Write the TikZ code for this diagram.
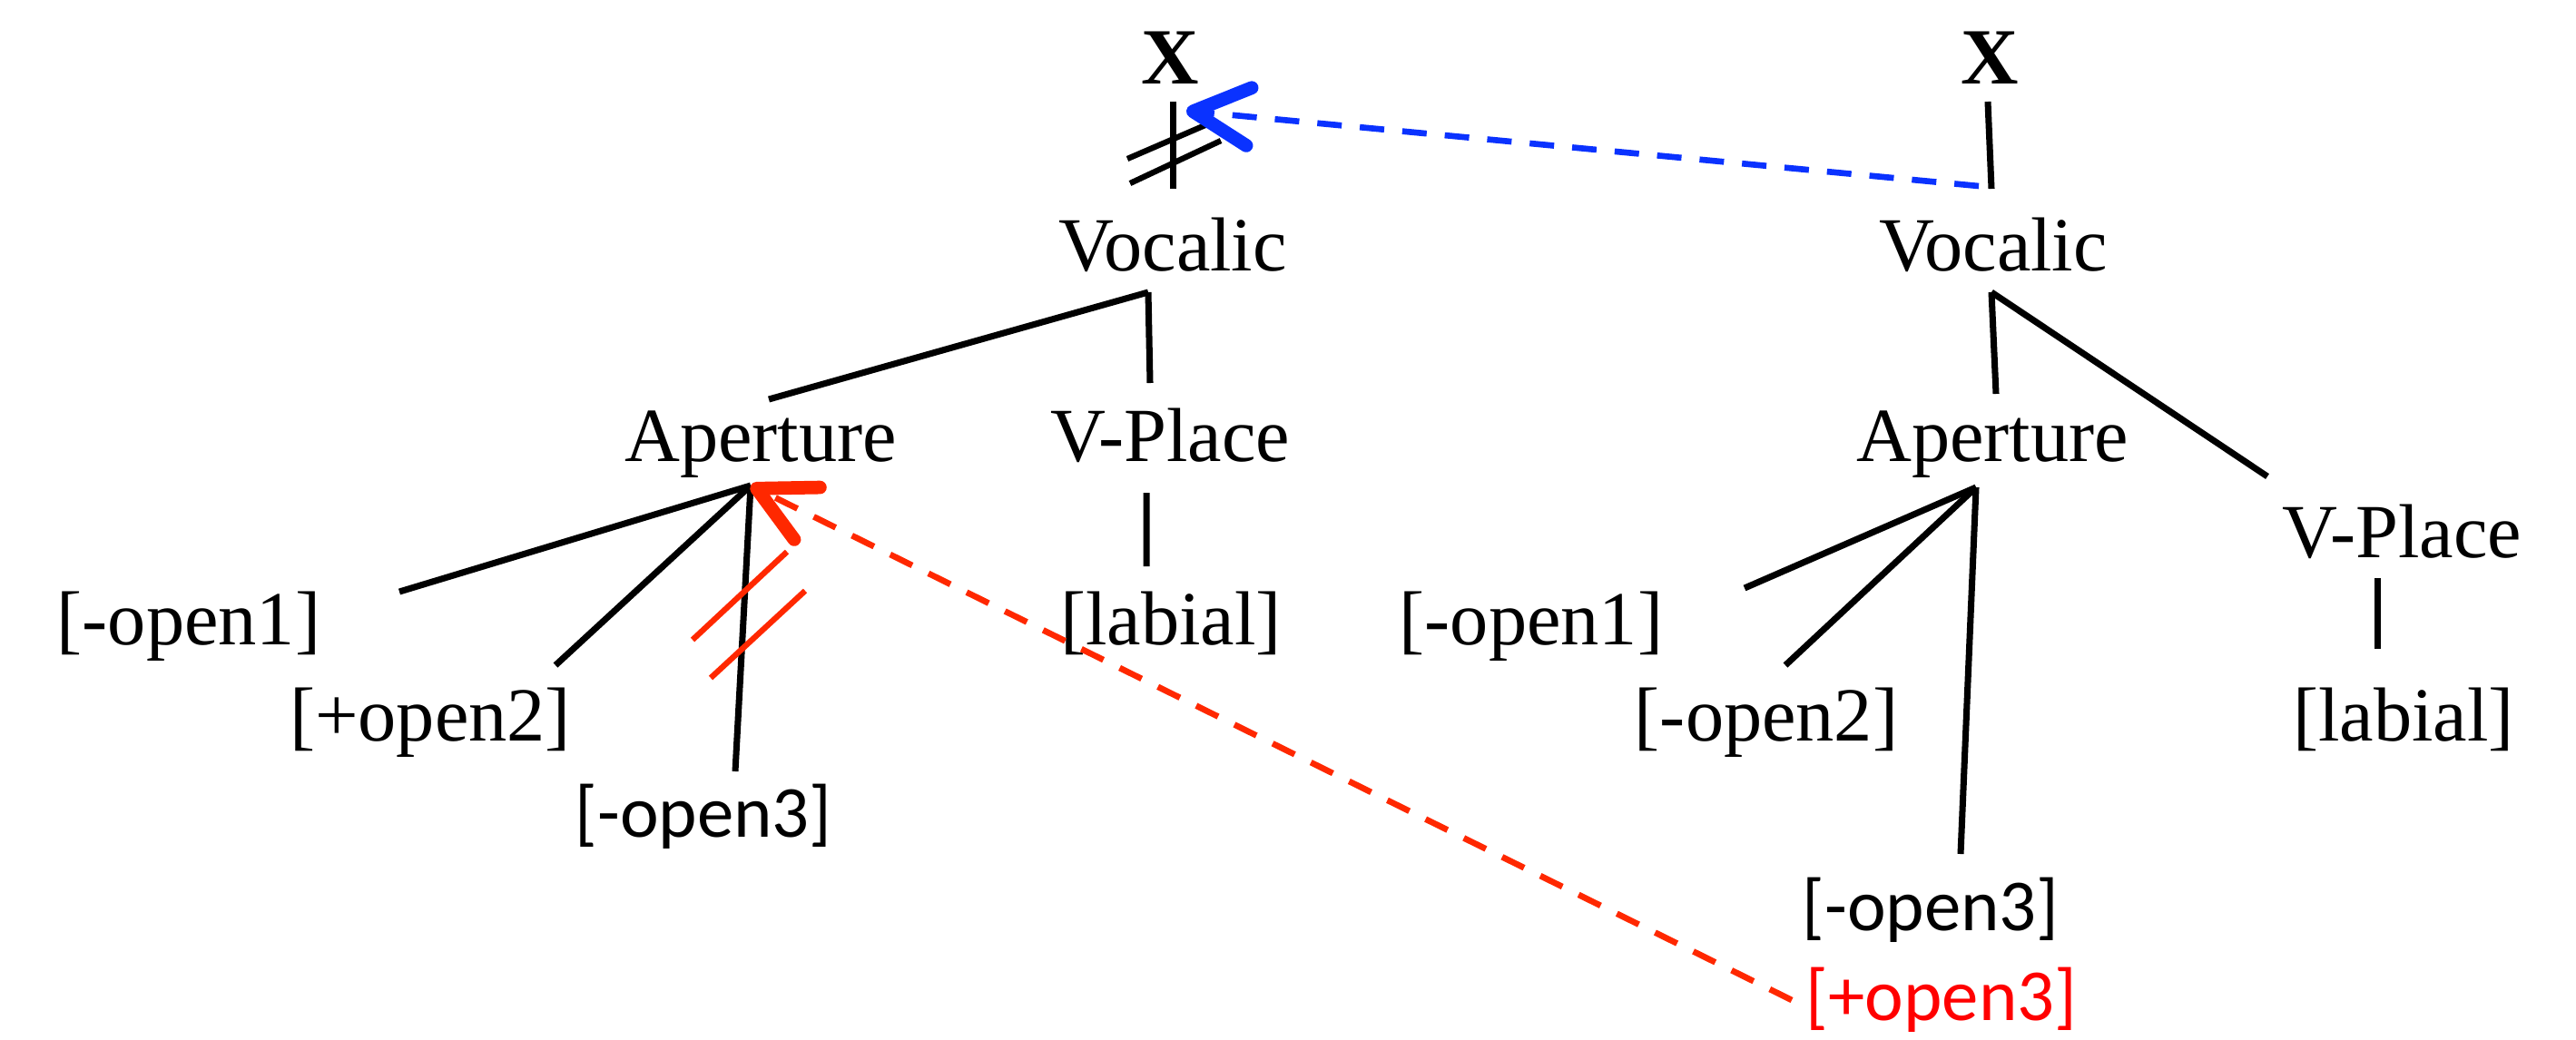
\documentclass[tikz,border=0pt]{standalone}
\usepackage{fontspec}
\setmainfont{Liberation Serif}
\newfontfamily\calibrifont{Carlito}
\usetikzlibrary{arrows.meta, calc}
\definecolor{linkred}{RGB}{255,40,0}
\definecolor{linkblue}{RGB}{10,50,255}
\definecolor{featred}{RGB}{255,0,0}

\begin{document}
\begin{tikzpicture}[>=Stealth,
    feat/.style={anchor=base, inner sep=0pt, font=\fontsize{24}{28}\selectfont},
    featsans/.style={anchor=base, inner sep=0pt, font=\calibrifont\fontsize{23}{27}\selectfont},
    root/.style={anchor=base, inner sep=0pt, font=\bfseries\fontsize{25}{28}\selectfont},
    assoc/.style={line width=2pt},
    cut/.style={line width=1.8pt},
    relink/.style={line width=1.9pt, dash pattern=on 0.27cm off 0.2cm,
      -{Straight Barb[length=6.2mm, width=6.4mm, line width=4.2pt, round]}}]
  \useasboundingbox (0,0) rectangle (28.38,-11.45);
  % --- left tree ---
  \node[root] (xL) at (12.89,-0.92) {X};
  \node[feat] (vocL) at (12.92,-2.98) {Vocalic};
  \node[feat] (aperL) at (8.38,-5.08) {Aperture};
  \node[feat] (vplL) at (12.89,-5.08) {V-Place};
  \node[feat] (op1L) at (2.08,-7.10) {[-open1]};
  \node[feat] (op2L) at (4.74,-8.16) {[+open2]};
  \node[featsans] (op3L) at (7.75,-9.22) {[-open3]};
  \node[feat] (labL) at (12.90,-7.10) {[labial]};
  % --- right tree ---
  \node[root] (xR) at (21.92,-0.92) {X};
  \node[feat] (vocR) at (21.96,-2.98) {Vocalic};
  \node[feat] (aperR) at (21.95,-5.08) {Aperture};
  \node[feat] (vplR) at (26.46,-6.14) {V-Place};
  \node[feat] (op1R) at (16.87,-7.10) {[-open1]};
  \node[feat] (op2R) at (19.46,-8.16) {[-open2]};
  \node[feat] (labR) at (26.48,-8.16) {[labial]};
  \node[featsans] (op3R) at (21.27,-10.25) {[-open3]};
  \node[featsans, text=featred] (p3R) at (21.39,-11.24) {[+open3]};
  % line ends
  \coordinate (xL-foot) at ($(xL.base)+(0.03,-0.20)$);
  \coordinate (vocL-head) at ($(vocL.base)+(0,0.90)$);
  \coordinate (vocL-foot) at ($(vocL.base)+(-0.27,-0.24)$);
  \coordinate (aperL-head) at ($(aperL.base)+(0.09,0.68)$);
  \coordinate (aperL-foot) at ($(aperL.base)+(-0.11,-0.27)$);
  \coordinate (vplL-head) at ($(vplL.base)+(-0.22,0.86)$);
  \coordinate (vplL-foot) at ($(vplL.base)+(-0.26,-0.35)$);
  \coordinate (op1L-head) at ($(op1L.base)+(2.32,0.58)$);
  \coordinate (op2L-head) at ($(op2L.base)+(1.38,0.83)$);
  \coordinate (op3L-head) at ($(op3L.base)+(0.35,0.72)$);
  \coordinate (labL-head) at ($(labL.base)+(-0.27,0.86)$);
  \coordinate (xR-foot) at ($(xR.base)+(-0.02,-0.20)$);
  \coordinate (vocR-head) at ($(vocR.base)+(-0.02,0.90)$);
  \coordinate (vocR-foot) at ($(vocR.base)+(-0.02,-0.24)$);
  \coordinate (aperR-head) at ($(aperR.base)+(0.04,0.74)$);
  \coordinate (aperR-foot) at ($(aperR.base)+(-0.18,-0.29)$);
  \coordinate (vplR-head) at ($(vplR.base)+(-1.48,0.89)$);
  \coordinate (vplR-foot) at ($(vplR.base)+(-0.27,-0.23)$);
  \coordinate (op1R-head) at ($(op1R.base)+(2.35,0.62)$);
  \coordinate (op2R-head) at ($(op2R.base)+(0.21,0.83)$);
  \coordinate (op3R-head) at ($(op3R.base)+(0.33,0.84)$);
  \coordinate (labR-head) at ($(labR.base)+(-0.29,1.01)$);
  % association lines
  \draw[assoc] (xL-foot) -- (vocL-head);
  \draw[assoc] (vocL-foot) -- (aperL-head);
  \draw[assoc] (vocL-foot) -- (vplL-head);
  \draw[assoc] (aperL-foot) -- (op1L-head);
  \draw[assoc] (aperL-foot) -- (op2L-head);
  \draw[assoc] (aperL-foot) -- (op3L-head);
  \draw[assoc] (vplL-foot) -- (labL-head);
  \draw[assoc] (xR-foot) -- (vocR-head);
  \draw[assoc] (vocR-foot) -- (aperR-head);
  \draw[assoc] (vocR-foot) -- (vplR-head);
  \draw[assoc] (aperR-foot) -- (op1R-head);
  \draw[assoc] (aperR-foot) -- (op2R-head);
  \draw[assoc] (aperR-foot) -- (op3R-head);
  \draw[assoc] (vplR-foot) -- (labR-head);
  % delinking marks
  \draw[cut] (12.42,-1.75) -- (13.30,-1.37);
  \draw[cut] (12.45,-2.02) -- (13.45,-1.55);
  \draw[cut, linkred] (7.63,-7.05) -- (8.67,-6.08);
  \draw[cut, linkred] (7.83,-7.47) -- (8.87,-6.51);
  % spreading
  \draw[relink, linkblue] ($(vocR-head)+(-0.14,0.03)$) -- ($(xL-foot)+(0.15,-0.10)$);
  \draw[relink, linkred] ($(p3R.base west)+(-0.15,0.22)$) -- (aperL-foot);
\end{tikzpicture}
\end{document}
